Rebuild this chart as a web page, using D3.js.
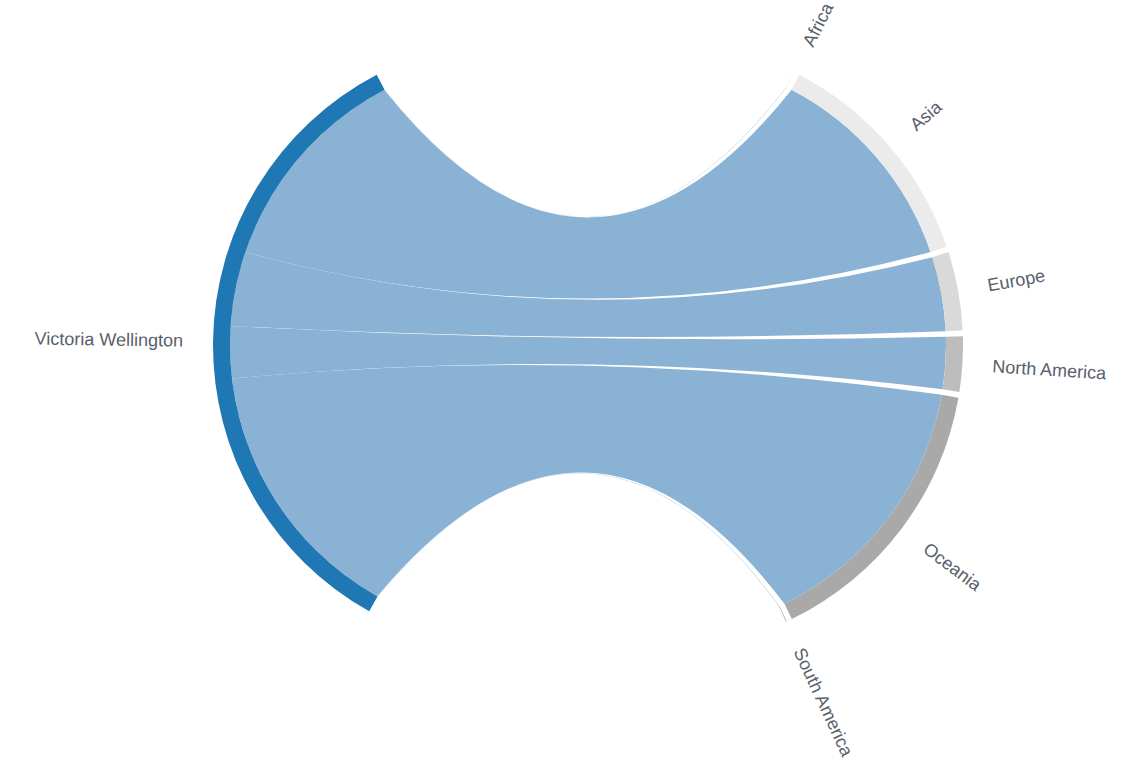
<!DOCTYPE html>
<html>
<head>
<meta charset="utf-8">
<script src="https://cdn.jsdelivr.net/npm/d3@7"></script>
<style>
  body { margin: 0; background: #fff; }
  text { font-family: "Liberation Sans", Arial, sans-serif; font-size: 18px; fill: #59606b; }
</style>
</head>
<body>
<div id="chart"></div>
<script>
// data
var source = "Victoria Wellington";
var continents = ["Africa", "Asia", "Europe", "North America", "Oceania", "South America"];
var flows = [1, 522, 180, 126, 648, 1];
var continentColors = ["#eeeeee", "#ebebeb", "#d9d9d9", "#bdbdbd", "#a9a9a9", "#6f6f6f"];
var sourceColor = "#1f77b4";
var chordColor = "#89b2d5";

var chart = {};
chart.draw = function() {
    var width = 1122, height = 768;
    var cx = 588, cy = 345;
    var pullOut = 70;
    var outerRadius = 305, innerRadius = 288;
    var deg = Math.PI / 180;
    var pad = 1.1 * deg;
    var span = 123.2 * deg;        // angle taken by all flows on one side
    var rot = 0.8 * deg;

    var total = d3.sum(flows);
    var angle = d3.scaleLinear().domain([0, total]).range([0, span]);

    // right side: continents clockwise from the top
    var rightSpan = span + pad * (continents.length - 1);
    var rightStart = Math.PI / 2 + rot - rightSpan / 2;
    var cum = 0;
    var groups = continents.map(function(name, i) {
        var a0 = rightStart + angle(cum) + i * pad;
        cum += flows[i];
        var a1 = rightStart + angle(cum) + i * pad;
        return { name: name, startAngle: a0, endAngle: a1, color: continentColors[i] };
    });

    // left side: one group, subgroups in reverse order so chords do not cross
    var leftStart = 1.5 * Math.PI + rot - span / 2;
    var left = { name: source, startAngle: leftStart, endAngle: leftStart + span, color: sourceColor };
    var chords = [];
    cum = 0;
    for (var i = continents.length - 1; i >= 0; i--) {
        var s0 = leftStart + angle(cum);
        cum += flows[i];
        var s1 = leftStart + angle(cum);
        chords.push({ s0: s0, s1: s1, t0: groups[i].startAngle, t1: groups[i].endAngle });
    }

    var svg = d3.select("#chart").append("svg")
        .attr("width", width)
        .attr("height", height);
    var g = svg.append("g")
        .attr("transform", "translate(" + cx + "," + cy + ")");

    function pt(ox, a, r) {
        return [ox + r * Math.sin(a), -r * Math.cos(a)];
    }

    // stretched chords
    g.append("g").selectAll("path")
        .data(chords)
        .enter().append("path")
        .attr("fill", chordColor)
        .attr("d", function(d) {
            var p = d3.path();
            var r = innerRadius;
            var a = pt(-pullOut, d.s0, r);
            p.moveTo(a[0], a[1]);
            p.arc(-pullOut, 0, r, d.s0 - Math.PI / 2, d.s1 - Math.PI / 2);
            var b = pt(pullOut, d.t0, r);
            p.quadraticCurveTo(0, 0, b[0], b[1]);
            p.arc(pullOut, 0, r, d.t0 - Math.PI / 2, d.t1 - Math.PI / 2);
            p.quadraticCurveTo(0, 0, a[0], a[1]);
            p.closePath();
            return p.toString();
        });

    var arc = d3.arc().innerRadius(innerRadius).outerRadius(outerRadius);

    var all = [left].concat(groups);
    var grp = g.append("g").selectAll("g")
        .data(all)
        .enter().append("g")
        .attr("transform", function(d) {
            return "translate(" + (d.name === source ? -pullOut : pullOut) + ",0)";
        });

    grp.append("path")
        .attr("fill", function(d) { return d.color; })
        .attr("d", arc);

    grp.append("text")
        .each(function(d) { d.angle = (d.startAngle + d.endAngle) / 2; })
        .attr("dy", ".35em")
        .attr("text-anchor", function(d) { return d.angle > Math.PI ? "end" : null; })
        .attr("transform", function(d) {
            return "rotate(" + (d.angle * 180 / Math.PI - 90) + ")"
                + " translate(" + (outerRadius + 30) + ")"
                + (d.angle > Math.PI ? " rotate(180)" : "");
        })
        .text(function(d) { return d.name; });
}
chart.draw();
</script>
</body>
</html>
